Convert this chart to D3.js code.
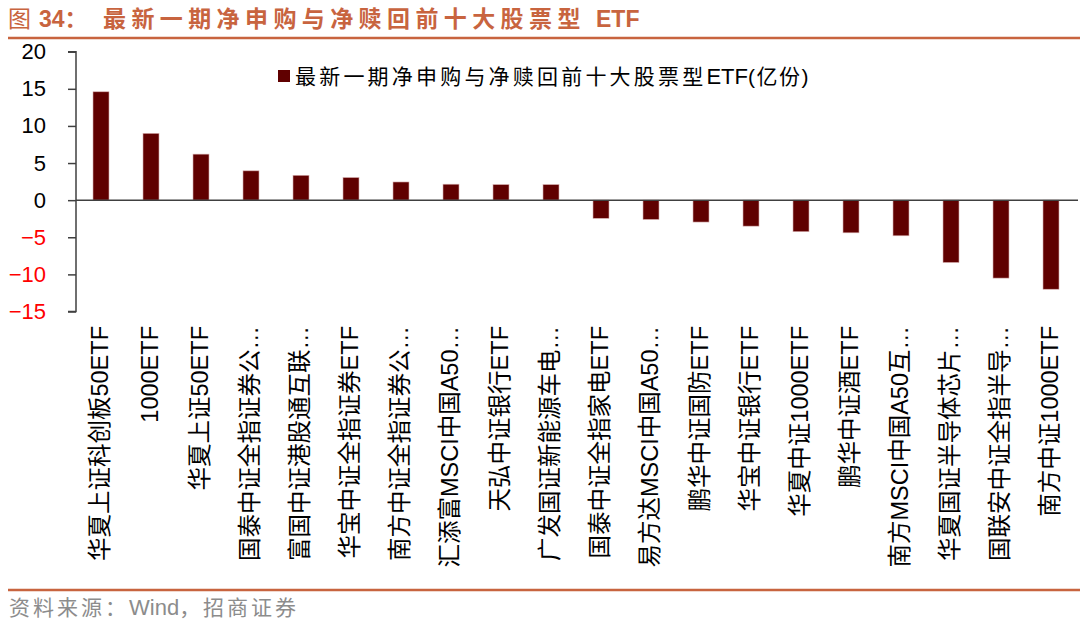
<!DOCTYPE html>
<html><head><meta charset="utf-8">
<script src="https://cdn.jsdelivr.net/npm/d3@7/dist/d3.min.js"></script>
<style>
html,body{margin:0;padding:0;background:#fff;}
svg{display:block;font-family:"Liberation Sans","Noto Sans CJK SC",sans-serif;}
</style></head>
<body>
<svg id="chart" width="1080" height="624"></svg>
<script>
const categories = [
  "华夏上证科创板50ETF","1000ETF","华夏上证50ETF","国泰中证全指证券公…","富国中证港股通互联…",
  "华宝中证全指证券ETF","南方中证全指证券公…","汇添富MSCI中国A50…","天弘中证银行ETF","广发国证新能源车电…",
  "国泰中证全指家电ETF","易方达MSCI中国A50…","鹏华中证国防ETF","华宝中证银行ETF","华夏中证1000ETF",
  "鹏华中证酒ETF","南方MSCI中国A50互…","华夏国证半导体芯片…","国联安中证全指半导…","南方中证1000ETF"
];
const values = [14.6, 9.0, 6.2, 3.95, 3.35, 3.05, 2.45, 2.15, 2.1, 2.1,
  -2.45, -2.6, -2.95, -3.5, -4.25, -4.4, -4.8, -8.4, -10.5, -12.0];
const yTicks = [20, 15, 10, 5, 0, -5, -10, -15];
const seriesNameParts = ["最新一期净申购与净赎回前十大股票型", "ETF", "(亿份)"];
const titleParts = ["图", "34：", "最新一期净申购与净赎回前十大股票型", "ETF"];
const sourceParts = ["资料来源：", "Wind", "，招商证券"];

const svg = d3.select("#chart");
const accent = "#c8643f";
const barColor = "#600000";

// Title
const title = svg.append("text").attr("y", 27).attr("fill", accent).attr("font-size", 23);
title.append("tspan").attr("x", 8).text(titleParts[0]);
title.append("tspan").attr("x", 39).attr("font-weight", "bold").text(titleParts[1]);
title.append("tspan").attr("x", 103).attr("font-weight", "bold").attr("letter-spacing", 5.4).text(titleParts[2]);
title.append("tspan").attr("x", 596).attr("font-weight", "bold").text(titleParts[3]);
svg.append("line").attr("x1", 8).attr("x2", 1080).attr("y1", 38).attr("y2", 38)
  .attr("stroke", accent).attr("stroke-width", 2.5);

// Scales
const x = d3.scaleBand().domain(categories).range([76, 1076]).paddingInner(0.68).paddingOuter(0.34);
const y = d3.scaleLinear().domain([-15, 20]).range([311.5, 51.7]);

// Y axis
const yAxis = svg.append("g").attr("transform", "translate(76,0)")
  .call(d3.axisLeft(y).tickValues(yTicks).tickSize(8).tickPadding(22).tickFormat(d3.format("d")));
yAxis.select(".domain").attr("stroke", "#404040").attr("stroke-width", 1.5).attr("d", `M-8,${y(20)}H0V${y(-15)}H-8`);
yAxis.selectAll(".tick line").attr("stroke", "#404040").attr("stroke-width", 1.5);
yAxis.selectAll(".tick text").attr("font-size", 22).attr("font-family", "Liberation Sans")
  .attr("fill", d => d < 0 ? "#ff0000" : "#000");

// Bars
svg.append("g").selectAll("rect").data(categories).join("rect")
  .attr("x", d => x(d))
  .attr("width", x.bandwidth())
  .attr("y", (d, i) => y(Math.max(0, values[i])))
  .attr("height", (d, i) => Math.abs(y(values[i]) - y(0)))
  .attr("fill", barColor)
  .attr("stroke", "#d8b0b0").attr("stroke-width", 0.6);

// Zero line
svg.append("line").attr("x1", 76).attr("x2", 1078).attr("y1", y(0)).attr("y2", y(0))
  .attr("stroke", "#404040").attr("stroke-width", 1.5);

// Category labels
svg.append("g").selectAll("text").data(categories).join("text")
  .attr("transform", d => `translate(${x(d) + x.bandwidth() / 2 - 1},326) rotate(-90)`)
  .attr("text-anchor", "end").attr("dy", "0.36em")
  .attr("font-size", 23.5).attr("fill", "#000")
  .text(d => d);

// Legend
svg.append("rect").attr("x", 278).attr("y", 70).attr("width", 12).attr("height", 12).attr("fill", barColor);
const leg = svg.append("text").attr("x", 295).attr("y", 76).attr("dy", "0.36em")
  .attr("font-size", 21).attr("fill", "#000");
leg.append("tspan").attr("letter-spacing", 3.2).text(seriesNameParts[0]);
leg.append("tspan").attr("font-size", 22).text(seriesNameParts[1]);
leg.append("tspan").attr("letter-spacing", 1.5).text(seriesNameParts[2]);

// Footer
svg.append("line").attr("x1", 8).attr("x2", 1080).attr("y1", 590).attr("y2", 590)
  .attr("stroke", accent).attr("stroke-width", 2.5);
const src = svg.append("text").attr("x", 9).attr("y", 615).attr("font-size", 21).attr("fill", "#8c8c8c");
src.append("tspan").attr("letter-spacing", 3).text(sourceParts[0]);
src.append("tspan").attr("font-size", 22).text(sourceParts[1]);
src.append("tspan").attr("letter-spacing", 3).text(sourceParts[2]);
</script>
</body></html>
